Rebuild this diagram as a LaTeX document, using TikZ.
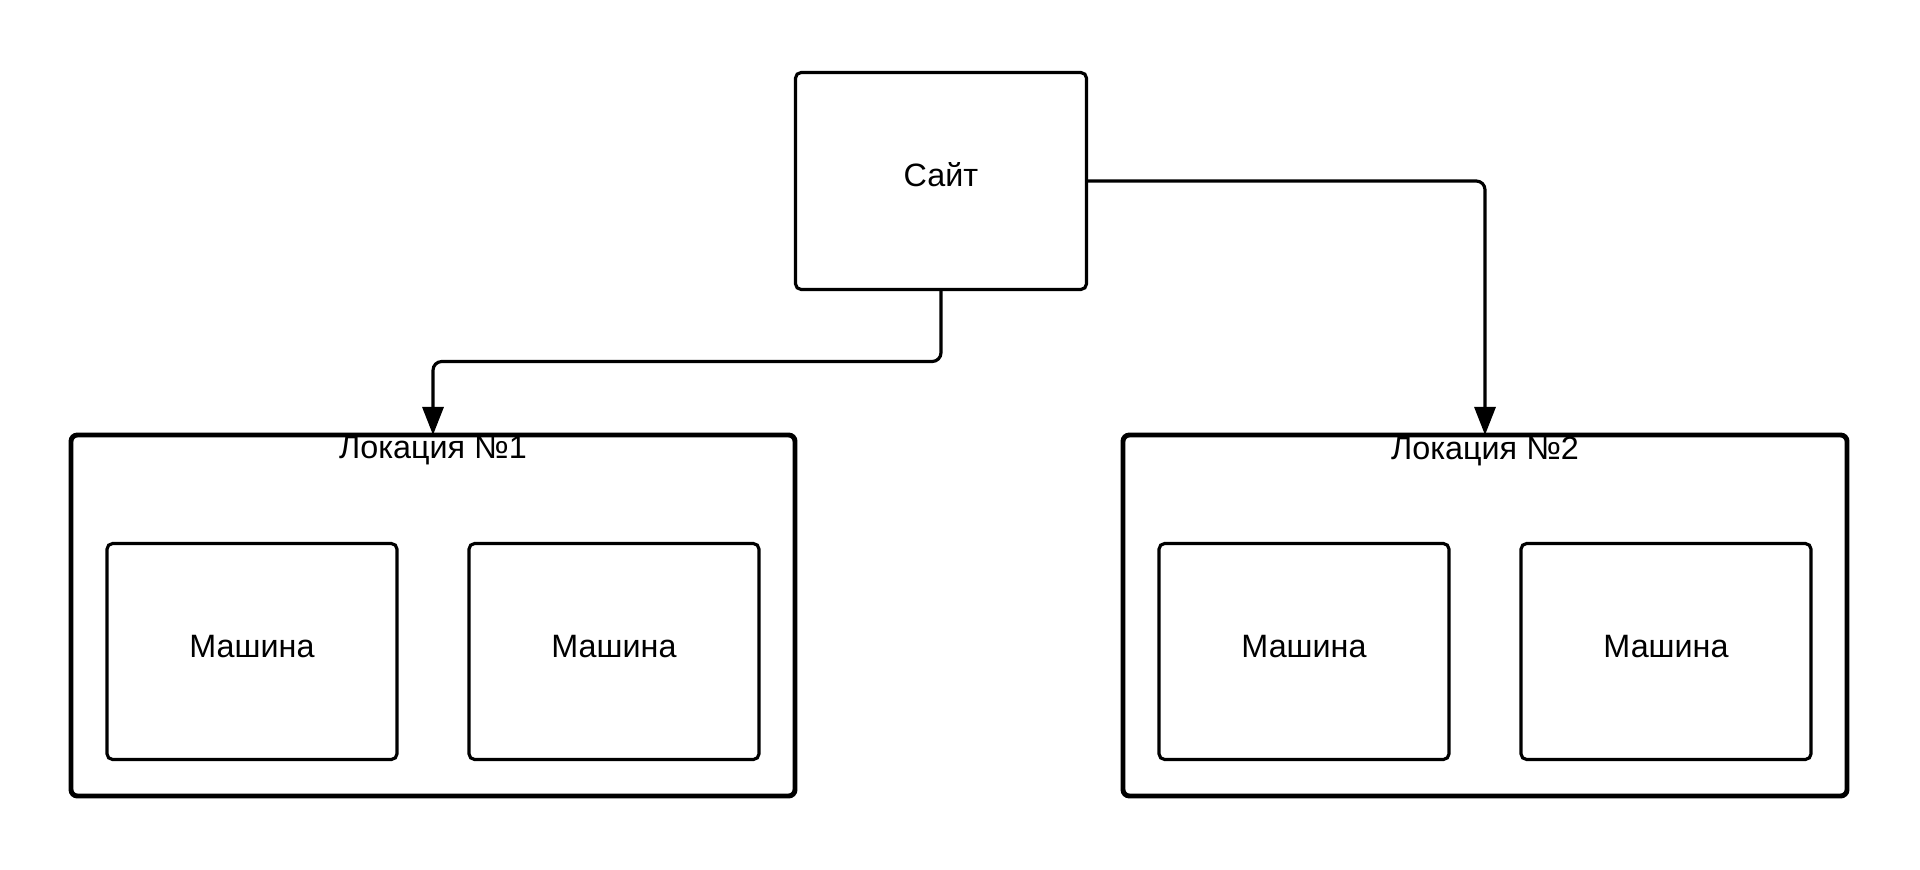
\documentclass[tikz,border=0pt]{standalone}
\usepackage{fontspec}
\setmainfont{Liberation Sans}
\usetikzlibrary{arrows.meta, positioning}
\tikzset{
  every picture/.style={font=\fontsize{9.2}{11}\selectfont, line width=0.9pt},
  box/.style={draw=black, rounded corners=1.6pt, minimum width=2.9cm, minimum height=2.16cm, inner sep=0pt, outer sep=0pt, align=center, text height=0.3cm, text depth=0.19cm},
  group/.style={draw=black, line width=1.4pt, rounded corners=1.8pt, minimum width=7.24cm, minimum height=3.61cm, inner sep=0pt, outer sep=0pt},
  arrow/.style={-{Triangle[length=8pt, width=6pt]}, draw=black, line width=0.9pt, rounded corners=2.5pt},
  grouptitle/.style={inner sep=0pt},
}
\begin{document}
\begin{tikzpicture}
  \useasboundingbox (0,0) rectangle (19.2,-8.69);
  % \locbox{name}{x of centre}{title}: a location with two machines
  \newcommand{\locbox}[3]{%
    \node[group] (#1) at (#2, -6.155) {};
    \node[grouptitle] (#1t) at ([yshift=-0.16cm]#1.north) {#3};
    \node[box] (#1a) at ([shift={(-1.81,-0.36)}]#1.center) {Машина};
    \node[box] (#1b) at ([shift={(1.81,-0.36)}]#1.center) {Машина};}
  \node[box, minimum width=2.91cm, minimum height=2.17cm] (site) at (9.41, -1.81) {Сайт};
  \locbox{loc1}{4.33}{Локация №1}
  \locbox{loc2}{14.85}{Локация №2}
  \draw[arrow] (site.south) -- ++(0,-0.72) -| (loc1.north);
  \draw[arrow] (site.east) -| (loc2.north);
\end{tikzpicture}
\end{document}
